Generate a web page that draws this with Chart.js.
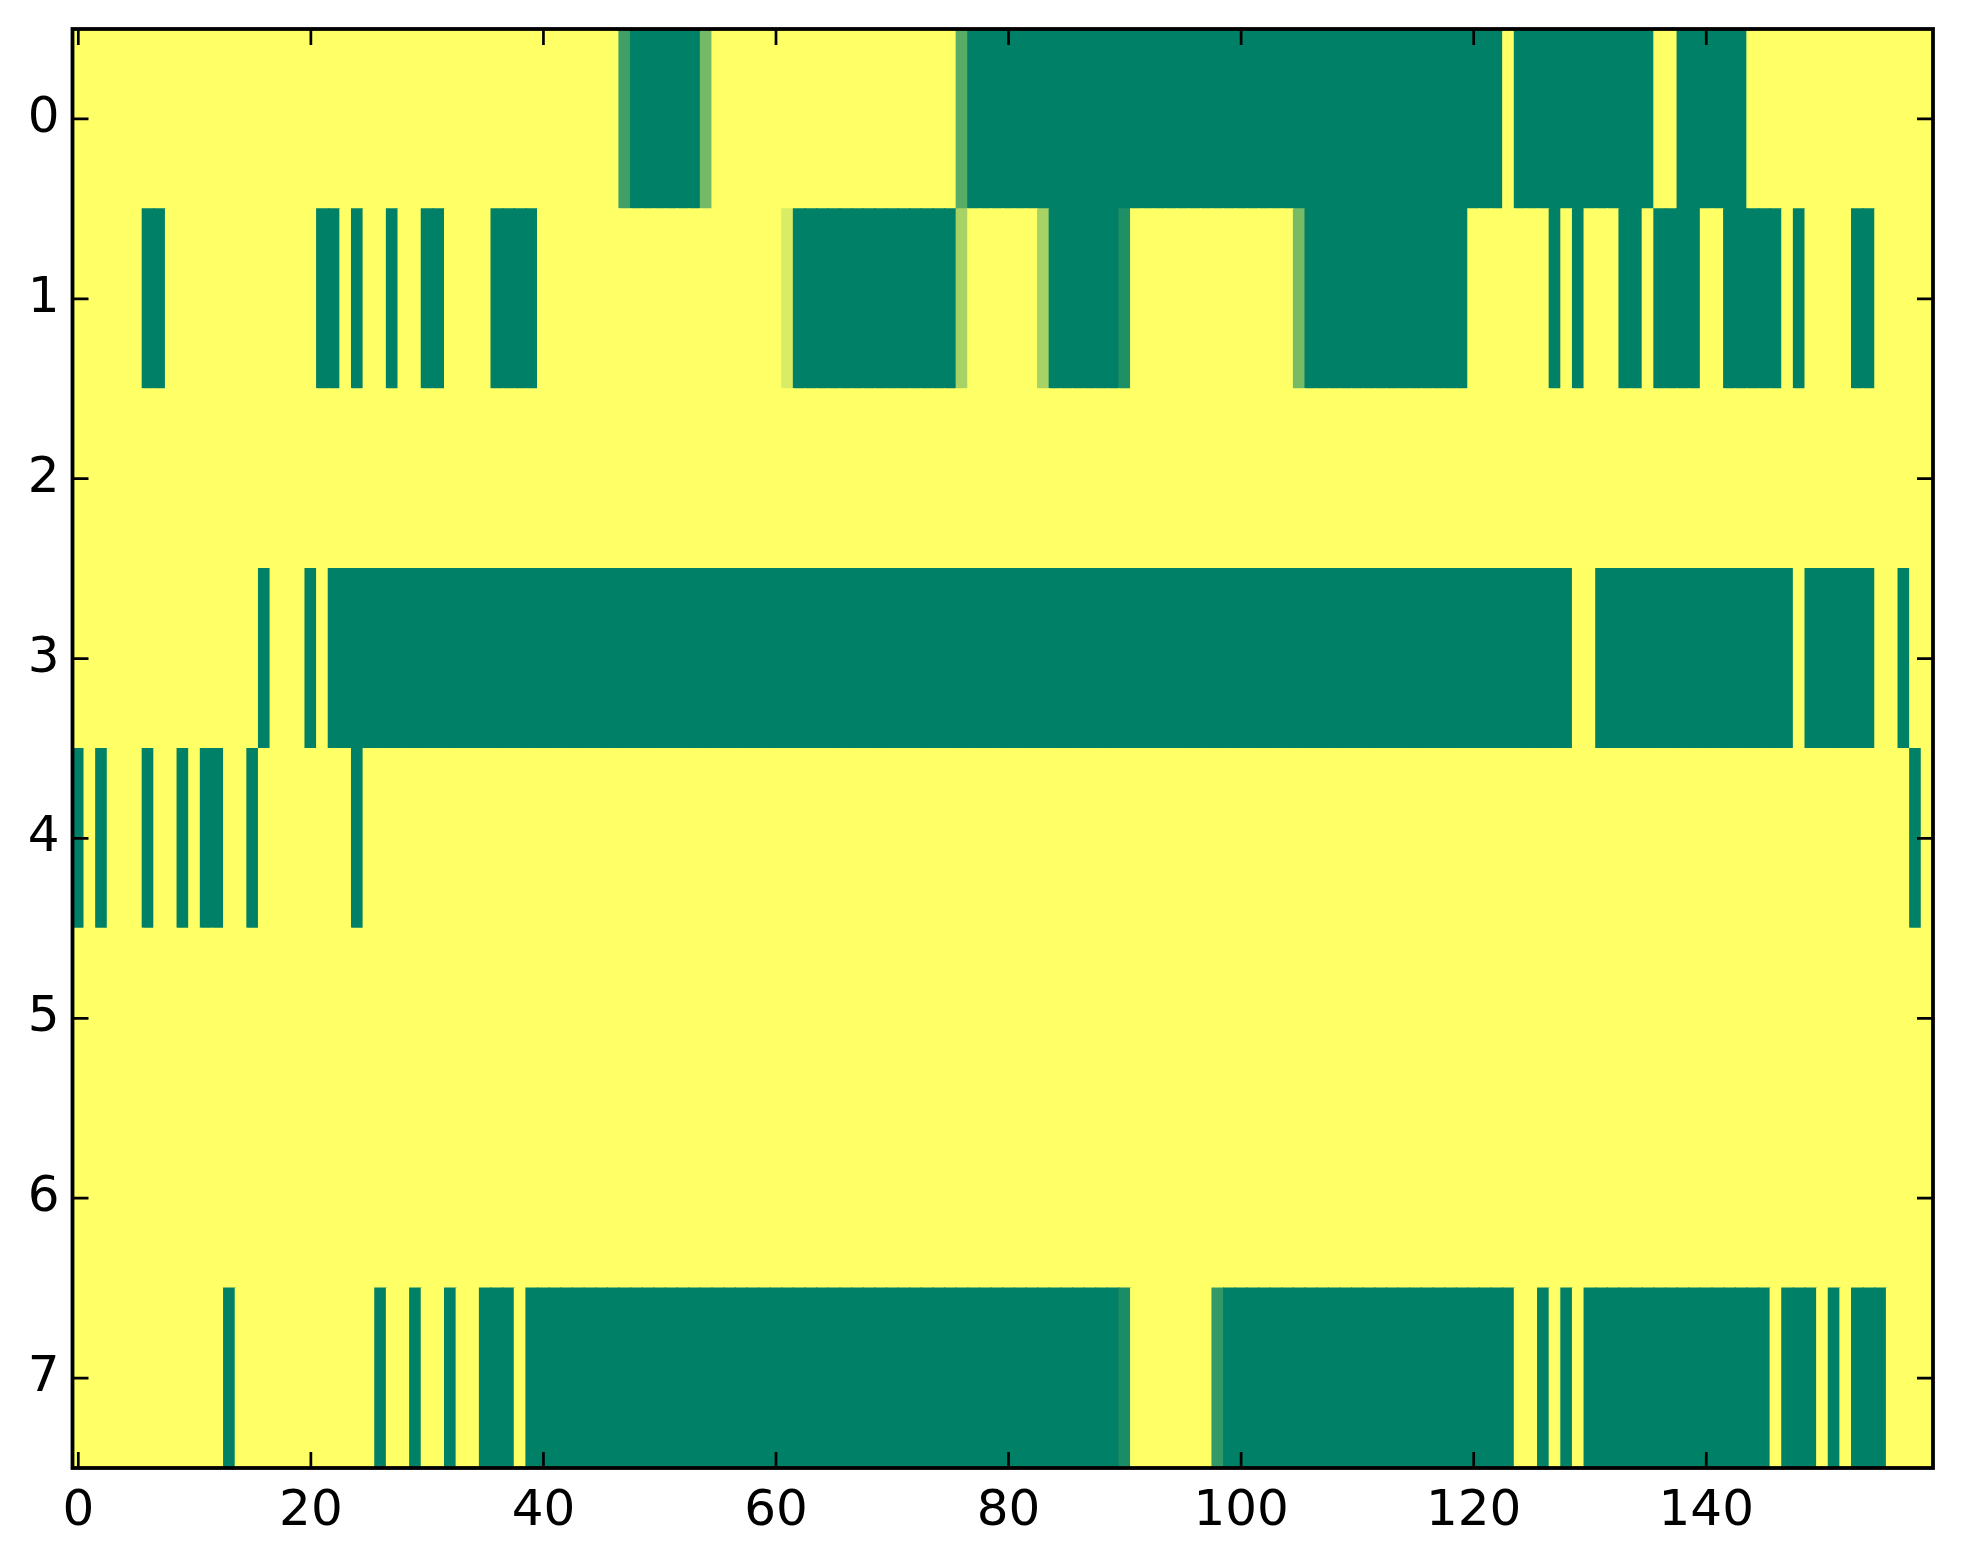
<!DOCTYPE html>
<html>
<head>
<meta charset="utf-8">
<script src="https://cdn.jsdelivr.net/npm/chart.js@4.4.1/dist/chart.umd.min.js"></script>
<style>
  html, body { margin: 0; padding: 0; background: #fff; }
  #wrap { width: 1963px; height: 1564px; }
</style>
</head>
<body>
<div id="wrap"><canvas id="heat" width="1963" height="1564"></canvas></div>
<script>
// one value per column (0 .. 159), 0 = dark green, 1 = yellow
const row0 = [
  1,1,1,1,1,1,1,1,1,1,1,1,1,1,1,1,1,1,1,1,
  1,1,1,1,1,1,1,1,1,1,1,1,1,1,1,1,1,1,1,1,
  1,1,1,1,1,1,1,0.25,0,0,0,0,0,0,0.45,1,1,1,1,1,
  1,1,1,1,1,1,1,1,1,1,1,1,1,1,1,1,0.35,0,0,0,
  0,0,0,0,0,0,0,0,0,0,0,0,0,0,0,0,0,0,0,0,
  0,0,0,0,0,0,0,0,0,0,0,0,0,0,0,0,0,0,0,0,
  0,0,0,1,0,0,0,0,0,0,0,0,0,0,0,0,1,1,0,0,
  0,0,0,0,1,1,1,1,1,1,1,1,1,1,1,1,1,1,1,1
];
const row1 = [
  1,1,1,1,1,1,0,0,1,1,1,1,1,1,1,1,1,1,1,1,
  1,0,0,1,0,1,1,0,1,1,0,0,1,1,1,1,0,0,0,0,
  1,1,1,1,1,1,1,1,1,1,1,1,1,1,1,1,1,1,1,1,
  1,0.85,0,0,0,0,0,0,0,0,0,0,0,0,0,0,0.65,1,1,1,
  1,1,1,0.65,0,0,0,0,0,0,0.12,1,1,1,1,1,1,1,1,1,
  1,1,1,1,1,0.47,0,0,0,0,0,0,0,0,0,0,0,0,0,0,
  1,1,1,1,1,1,1,0,1,0,1,1,1,0,0,1,0,0,0,0,
  1,1,0,0,0,0,0,1,0,1,1,1,1,0,0,1,1,1,1,1
];
const row2 = [
  1,1,1,1,1,1,1,1,1,1,1,1,1,1,1,1,1,1,1,1,
  1,1,1,1,1,1,1,1,1,1,1,1,1,1,1,1,1,1,1,1,
  1,1,1,1,1,1,1,1,1,1,1,1,1,1,1,1,1,1,1,1,
  1,1,1,1,1,1,1,1,1,1,1,1,1,1,1,1,1,1,1,1,
  1,1,1,1,1,1,1,1,1,1,1,1,1,1,1,1,1,1,1,1,
  1,1,1,1,1,1,1,1,1,1,1,1,1,1,1,1,1,1,1,1,
  1,1,1,1,1,1,1,1,1,1,1,1,1,1,1,1,1,1,1,1,
  1,1,1,1,1,1,1,1,1,1,1,1,1,1,1,1,1,1,1,1
];
const row3 = [
  1,1,1,1,1,1,1,1,1,1,1,1,1,1,1,1,0,1,1,1,
  0,1,0,0,0,0,0,0,0,0,0,0,0,0,0,0,0,0,0,0,
  0,0,0,0,0,0,0,0,0,0,0,0,0,0,0,0,0,0,0,0,
  0,0,0,0,0,0,0,0,0,0,0,0,0,0,0,0,0,0,0,0,
  0,0,0,0,0,0,0,0,0,0,0,0,0,0,0,0,0,0,0,0,
  0,0,0,0,0,0,0,0,0,0,0,0,0,0,0,0,0,0,0,0,
  0,0,0,0,0,0,0,0,0,1,1,0,0,0,0,0,0,0,0,0,
  0,0,0,0,0,0,0,0,1,0,0,0,0,0,0,1,1,0,1,1
];
const row4 = [
  0,1,0,1,1,1,0,1,1,0,1,0,0,1,1,0,1,1,1,1,
  1,1,1,1,0,1,1,1,1,1,1,1,1,1,1,1,1,1,1,1,
  1,1,1,1,1,1,1,1,1,1,1,1,1,1,1,1,1,1,1,1,
  1,1,1,1,1,1,1,1,1,1,1,1,1,1,1,1,1,1,1,1,
  1,1,1,1,1,1,1,1,1,1,1,1,1,1,1,1,1,1,1,1,
  1,1,1,1,1,1,1,1,1,1,1,1,1,1,1,1,1,1,1,1,
  1,1,1,1,1,1,1,1,1,1,1,1,1,1,1,1,1,1,1,1,
  1,1,1,1,1,1,1,1,1,1,1,1,1,1,1,1,1,1,0,1
];
const row5 = row2.slice();
const row6 = row2.slice();
const row7 = [
  1,1,1,1,1,1,1,1,1,1,1,1,1,0,1,1,1,1,1,1,
  1,1,1,1,1,1,0,1,1,0,1,1,0,1,1,0,0,0,1,0,
  0,0,0,0,0,0,0,0,0,0,0,0,0,0,0,0,0,0,0,0,
  0,0,0,0,0,0,0,0,0,0,0,0,0,0,0,0,0,0,0,0,
  0,0,0,0,0,0,0,0,0,0,0.1,1,1,1,1,1,1,1,0.2,0,
  0,0,0,0,0,0,0,0,0,0,0,0,0,0,0,0,0,0,0,0,
  0,0,0,0,1,1,0,1,0,1,0,0,0,0,0,0,0,0,0,0,
  0,0,0,0,0,0,1,0,0,0,1,0,1,0,0,0,1,1,1,1
];

const rows = [row0, row1, row2, row3, row4, row5, row6, row7];
const xTicks = [0, 20, 40, 60, 80, 100, 120, 140];
const yTicks = [0, 1, 2, 3, 4, 5, 6, 7];

// matplotlib "summer" colormap
function summer(v) {
    return 'rgb(' + Math.round(255 * v) + ',' + Math.round(127.5 + 127.5 * v) + ',102)';
}

const cells = [];
rows.forEach(function (vals, r) {
    vals.forEach(function (v, c) {
        cells.push({x: c, y: [r - 0.5, r + 0.5], v: v});
    });
});

const tickFont = {family: '"DejaVu Sans", sans-serif', size: 50};

// frame and inward ticks on all four sides
const frame = {
    id: 'frame',
    afterDraw(chart) {
        const c = chart.ctx;
        const a = chart.chartArea;
        const xs = chart.scales.x;
        const ys = chart.scales.y;
        const len = 16;
        c.save();
        c.strokeStyle = '#000';
        c.lineWidth = 2.7;
        c.beginPath();
        xTicks.forEach(function (v) {
            const px = xs.getPixelForValue(v);
            c.moveTo(px, a.bottom);
            c.lineTo(px, a.bottom - len);
            c.moveTo(px, a.top);
            c.lineTo(px, a.top + len);
        });
        yTicks.forEach(function (v) {
            const py = ys.getPixelForValue(v);
            c.moveTo(a.left, py);
            c.lineTo(a.left + len, py);
            c.moveTo(a.right, py);
            c.lineTo(a.right - len, py);
        });
        c.stroke();
        c.lineWidth = 3.8;
        c.strokeRect(a.left, a.top, a.right - a.left, a.bottom - a.top);
        c.restore();
    }
};

const ctx = document.getElementById('heat');

new Chart(ctx, {
    type: 'bar',
    data: {
        datasets: [{
            data: cells,
            backgroundColor: function (context) {
                return summer(context.raw.v);
            },
            borderWidth: 0,
            barPercentage: 1,
            categoryPercentage: 1,
            inflateAmount: 0.6
        }]
    },
    options: {
        responsive: false,
        animation: false,
        devicePixelRatio: 1,
        layout: {
            padding: {top: 29, right: 30, left: 0, bottom: 0}
        },
        plugins: {
            legend: {display: false},
            tooltip: {enabled: false}
        },
        scales: {
            x: {
                type: 'linear',
                min: -0.5,
                max: 159.5,
                offset: false,
                grid: {display: false, drawTicks: false},
                border: {display: false},
                ticks: {font: tickFont, color: '#000', padding: 14, maxRotation: 0},
                afterBuildTicks: function (scale) {
                    scale.ticks = xTicks.map(v => ({value: v}));
                },
                afterFit: function (scale) {
                    scale.height = 96;
                    scale.paddingLeft = 0;
                    scale.paddingRight = 0;
                }
            },
            y: {
                type: 'linear',
                min: -0.5,
                max: 7.5,
                reverse: true,
                beginAtZero: false,
                grid: {display: false, drawTicks: false},
                border: {display: false},
                ticks: {font: tickFont, color: '#000', padding: 13},
                afterBuildTicks: function (scale) {
                    scale.ticks = yTicks.map(v => ({value: v}));
                },
                afterFit: function (scale) {
                    scale.width = 72.5;
                    scale.paddingTop = 0;
                    scale.paddingBottom = 0;
                }
            }
        }
    },
    plugins: [frame]
});
</script>
</body>
</html>
